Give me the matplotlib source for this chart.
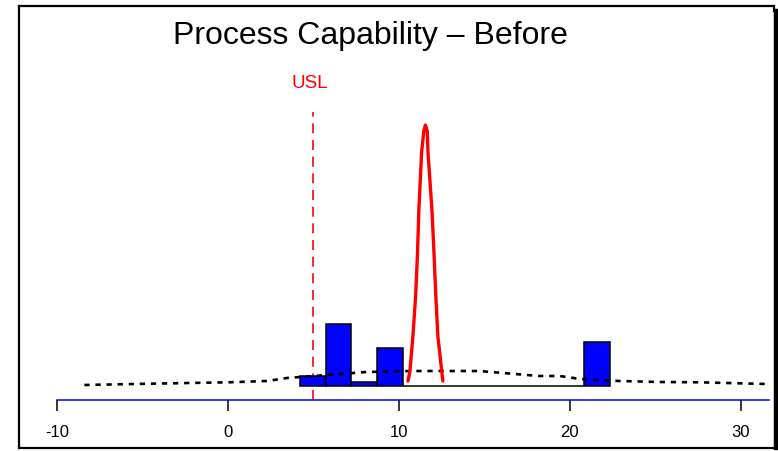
import matplotlib.pyplot as plt
from matplotlib.lines import Line2D
import numpy as np

plt.rcParams['font.family'] = ['Liberation Sans', 'DejaVu Sans']

# histogram (bin edges and bar heights)
bin_start = 4.2
bin_width = 1.51
bar_heights = [1.0, 6.2, 0.4, 3.8, 0, 0, 0, 0, 0, 0, 0, 4.4]

# wide fitted curve (dotted black)
wide_x = [-8.4, -4.6, 0.0, 2.3, 3.45, 5.8, 8.1, 10.8, 14.7, 18.2, 19.4, 20.6, 22.9, 25.3, 27.6, 31.5]
wide_y = [0.1, 0.23, 0.37, 0.5, 0.8, 1.1, 1.4, 1.5, 1.5, 1.0, 1.0, 0.7, 0.5, 0.4, 0.37, 0.2]

# narrow curve (red)
red_x = [10.53, 10.64, 10.82, 10.98, 11.09, 11.17, 11.33, 11.46, 11.55,
         11.66, 11.70, 11.93, 12.05, 12.16, 12.28, 12.51, 12.57]
red_y = [0.5, 1.4, 5.0, 9.0, 13.4, 17.7, 23.4, 25.5, 26.1,
         25.5, 23.4, 17.7, 13.4, 9.0, 5.0, 1.4, 0.5]

usl = 5.0
x_ticks = [-10, 0, 10, 20, 30]

W, H = 778, 452
fig = plt.figure(figsize=(W / 100, H / 100), dpi=100)
ax = fig.add_axes([57 / W, 1 - 401 / H, (769 - 57) / W, 300 / H])

lefts = bin_start + bin_width * np.arange(len(bar_heights))
ax.bar(lefts, bar_heights, width=bin_width, align='edge', color='#0000FF',
       edgecolor='black', linewidth=1.1, zorder=2)

ax.plot(wide_x, wide_y, color='black', linewidth=1.9, dashes=(2.0, 2.2), zorder=3)
ax.plot(red_x, red_y, color='#FF0000', linewidth=2.4, solid_capstyle='round',
        solid_joinstyle='round', zorder=4)

ax.plot([usl, usl], [-1.4, 27.4], color='#FF0000', linewidth=1.2, dashes=(6, 4), zorder=1)

ax.set_xlim(-10, 31.65)
ax.set_ylim(-1.4, 28.6)
ax.set_xticks(x_ticks)
ax.set_xticklabels([str(t) for t in x_ticks], fontsize=12)
ax.tick_params(axis='x', direction='out', length=8, width=1.1, color='black', pad=9)
ax.set_yticks([])
for s in ['left', 'right', 'top']:
    ax.spines[s].set_visible(False)
ax.spines['bottom'].set_color('#0000FF')
ax.spines['bottom'].set_linewidth(1.1)
ax.patch.set_visible(False)

fig.text(370 / W, 1 - 44 / H, 'Process Capability \u2013 Before', fontsize=23,
         ha='center', va='baseline')
fig.text(310 / W, 1 - 88 / H, 'USL', fontsize=13.5, color='#FF0000',
         ha='center', va='baseline')

# outer frame with shadow on the right
def px(x, y):
    return x / W, 1 - y / H

for (x0, y0), (x1, y1), lw in [((19, 7), (774, 7), 1.6), ((19, 7), (19, 449), 1.6),
                              ((19, 449), (774, 449), 1.6), ((774, 7), (774, 12), 1.6),
                              ((775.5, 12), (775.5, 449), 3.2)]:
    a, b = px(x0, y0)
    c, d = px(x1, y1)
    fig.add_artist(Line2D([a, c], [b, d], color='black', linewidth=lw))

fig.savefig('out.png', dpi=100)
